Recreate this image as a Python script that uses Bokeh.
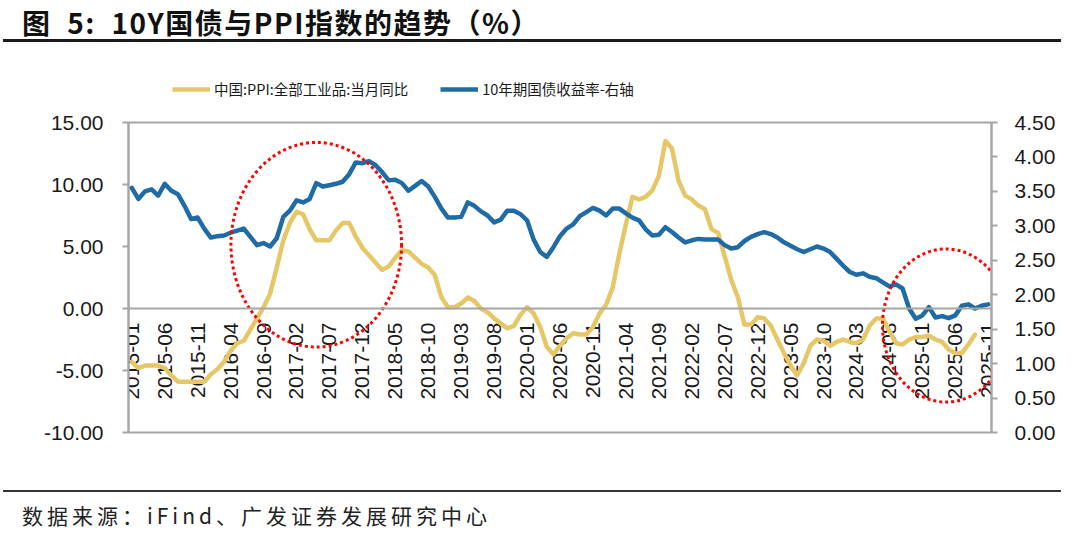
import numpy as np
from bokeh.plotting import figure
from bokeh.models import (Range1d, LinearAxis, FixedTicker, NumeralTickFormatter, Span,
                          Legend, LegendItem, ColumnDataSource, Div)
from bokeh.layouts import column
from bokeh.embed import file_html
from bokeh.resources import INLINE
from bokeh.core.properties import value

# ---------------- data ----------------
months = [f"{y}-{m:02d}" for y in range(2015, 2026) for m in range(1, 13)][:131]
tick_labels = months[::5]

ppi = [
    -4.3, -4.8, -4.6, -4.6, -4.6, -4.8, -5.4, -5.9, -5.9, -5.9, -5.9, -5.9,
    -5.3, -4.9, -4.3, -3.4, -2.8, -2.6, -1.7, -0.8, 0.1, 1.2, 3.3, 5.5,
    6.9, 7.8, 7.6, 6.4, 5.5, 5.5, 5.5, 6.3, 6.9, 6.9, 5.8, 4.9,
    4.3, 3.7, 3.1, 3.4, 4.1, 4.7, 4.6, 4.1, 3.6, 3.3, 2.7, 0.9,
    0.1, 0.1, 0.4, 0.9, 0.6, 0.0, -0.3, -0.8, -1.2, -1.6, -1.4, -0.5,
    0.1, -0.4, -1.5, -3.1, -3.7, -3.0, -2.4, -2.0, -2.1, -2.1, -1.5, -0.4,
    0.3, 1.7, 4.4, 6.8, 9.0, 8.8, 9.0, 9.5, 10.7, 13.5, 12.9, 10.3,
    9.1, 8.8, 8.3, 8.0, 6.4, 6.1, 4.2, 2.3, 0.9, -1.3, -1.3, -0.7,
    -0.8, -1.4, -2.5, -3.6, -4.6, -5.4, -4.4, -3.0, -2.5, -2.6, -3.0, -2.7,
    -2.5, -2.7, -2.8, -2.5, -1.4, -0.8, -0.8, -1.8, -2.8, -2.9, -2.5, -2.3,
    -2.3, -2.2, -2.5, -2.7, -3.3, -3.6, -3.6, -2.9, -2.1,
]

yield10 = [
    3.55, 3.39, 3.50, 3.53, 3.44, 3.61, 3.51, 3.46, 3.29, 3.10,
    3.12, 2.96, 2.83, 2.85, 2.86, 2.90, 2.93, 2.96, 2.84, 2.72,
    2.75, 2.70, 2.82, 3.13, 3.22, 3.37, 3.34, 3.39, 3.62, 3.57,
    3.59, 3.61, 3.64, 3.75, 3.92, 3.91, 3.94, 3.88, 3.78, 3.66,
    3.67, 3.62, 3.51, 3.58, 3.65, 3.57, 3.42, 3.25, 3.12, 3.12,
    3.13, 3.34, 3.29, 3.21, 3.15, 3.05, 3.09, 3.22, 3.22, 3.17,
    3.08, 2.80, 2.62, 2.55, 2.69, 2.85, 2.96, 3.02, 3.14, 3.20,
    3.26, 3.22, 3.15, 3.25, 3.25, 3.18, 3.12, 3.08, 2.95, 2.86,
    2.87, 2.98, 2.91, 2.83, 2.76, 2.79, 2.81, 2.80, 2.80, 2.80,
    2.72, 2.67, 2.69, 2.78, 2.84, 2.88, 2.91, 2.88, 2.83, 2.76,
    2.71, 2.66, 2.62, 2.66, 2.70, 2.67, 2.62, 2.52, 2.42, 2.33,
    2.29, 2.31, 2.26, 2.24, 2.18, 2.12, 2.15, 2.09, 1.80, 1.65,
    1.70, 1.82, 1.67, 1.69, 1.66, 1.70, 1.84, 1.86, 1.80, 1.84, 1.86,
]

left_ticks = [-10, -5, 0, 5, 10, 15]
right_ticks = [0, 0.5, 1.0, 1.5, 2.0, 2.5, 3.0, 3.5, 4.0, 4.5]

series_names = ["中国:PPI:全部工业品:当月同比", "10年期国债收益率-右轴"]
title_text = "图  5:  10Y国债与PPI指数的趋势（%）"
source_text = "数据来源：iFind、广发证券发展研究中心"

# highlight ellipses (center month index, center value, width in months, height in value)
highlights = [(28.0, 5.14, 25.9, 16.5), (123.6, -1.37, 19.3, 12.35)]

# ---------------- styles ----------------
YELLOW = "#E6C767"
BLUE = "#1F6BA5"
GRAY = "#A6A6A6"
TXT = "#1a1a1a"
FONT = "Liberation Sans"
CJK = "Noto Sans CJK SC"
LW = 4.5
BL, BR = 128, 81

# ---------------- main chart ----------------
p = figure(width=1072, height=374, output_backend="svg", toolbar_location=None,
           x_range=Range1d(-0.5, len(months) - 0.5), y_range=Range1d(-10, 15),
           x_axis_location=None, min_border_left=BL, min_border_right=BR,
           min_border_top=16, min_border_bottom=48,
           background_fill_color="white", border_fill_color="white")
p.grid.visible = False
p.outline_line_color = GRAY
p.outline_line_width = 2
p.extra_y_ranges = {"r": Range1d(0, 4.5)}

ax = p.yaxis[0]
ax.ticker = FixedTicker(ticks=left_ticks)
ax.formatter = NumeralTickFormatter(format="0.00")
rax = LinearAxis(y_range_name="r", ticker=FixedTicker(ticks=right_ticks),
                 formatter=NumeralTickFormatter(format="0.00"))
p.add_layout(rax, "right")
for a, so in ((ax, 19), (rax, 17)):
    a.axis_line_color = GRAY
    a.axis_line_width = 2
    a.major_tick_line_color = GRAY
    a.major_tick_line_width = 2
    a.major_tick_in = 0
    a.major_tick_out = 6
    a.minor_tick_line_color = None
    a.major_label_text_font = FONT
    a.major_label_text_font_size = "21px"
    a.major_label_text_color = TXT
    a.major_label_standoff = so

p.add_layout(Span(location=0, dimension="width", line_color=GRAY, line_width=2))

# x labels along the zero line
xs_idx = list(range(0, len(months), 5))
lab_src = ColumnDataSource(dict(x=xs_idx, y=[0] * len(xs_idx), t=tick_labels))
p.text(x="x", y="y", text="t", source=lab_src, angle=np.pi / 2, text_align="right",
       text_baseline="middle", y_offset=14, text_font=value(FONT),
       text_font_size="21px", text_color=TXT)

p.line(x=list(range(len(ppi))), y=ppi, line_color=YELLOW, line_width=LW,
       line_join="round", line_cap="round")
p.line(x=list(range(len(yield10))), y=yield10, line_color=BLUE, line_width=LW,
       line_join="round", line_cap="round", y_range_name="r")

for cx, cy, w, h in highlights:
    p.ellipse(x=cx, y=cy, width=w, height=h, fill_color=None, line_color="#FF0000",
              line_width=3, line_dash="3 3")

# ---------------- legend strip (series drawn off-view, only the legend shows) ----------------
lg = figure(width=1072, height=60, output_backend="svg", toolbar_location=None,
            x_range=Range1d(-20, -10), y_range=Range1d(0, 1),
            x_axis_location=None, y_axis_location=None,
            min_border_left=BL, min_border_right=BR, min_border_top=0, min_border_bottom=0,
            outline_line_color=None, background_fill_color="white",
            border_fill_color="white")
lg.grid.visible = False
s1 = lg.line(x=list(range(len(ppi))), y=ppi, line_color=YELLOW, line_width=LW)
s2 = lg.line(x=list(range(len(yield10))), y=yield10, line_color=BLUE, line_width=LW)
legend = Legend(items=[LegendItem(label=series_names[0], renderers=[s1]),
                       LegendItem(label=series_names[1], renderers=[s2])],
                location=(44, 7), orientation="horizontal",
                background_fill_alpha=0, border_line_color=None,
                padding=0, margin=0, spacing=32, label_standoff=4,
                glyph_width=38, glyph_height=18, label_height=18,
                label_text_font=CJK, label_text_font_size="14.5px",
                label_text_color=TXT, label_text_baseline="middle")
lg.add_layout(legend, "center")

title_div = Div(text=(f'<div style="font-family:\'{CJK}\';font-weight:bold;font-size:28px;'
                      f'color:#111;padding-left:19px;margin-left:3px;width:1058px;height:42px;'
                      f'line-height:44px;border-bottom:3px solid #1a1a1a;white-space:pre;'
                      f'letter-spacing:1.5px;">{title_text}</div>'),
                width=1080, height=46, margin=(0, 0, 0, 0))
foot_div = Div(text=(f'<div style="margin-top:10px;margin-left:3px;width:1058px;'
                     f'border-top:2px solid #333;padding-top:10px;'
                     f'font-family:\'{CJK}\';font-size:21px;line-height:26px;color:#222;'
                     f'padding-left:19px;letter-spacing:4px;">{source_text}</div>'),
               width=1080, height=52, margin=(0, 0, 0, 0))

layout = column(title_div, lg, p, foot_div, spacing=0)
open("out.html", "w").write(file_html(layout, INLINE))
